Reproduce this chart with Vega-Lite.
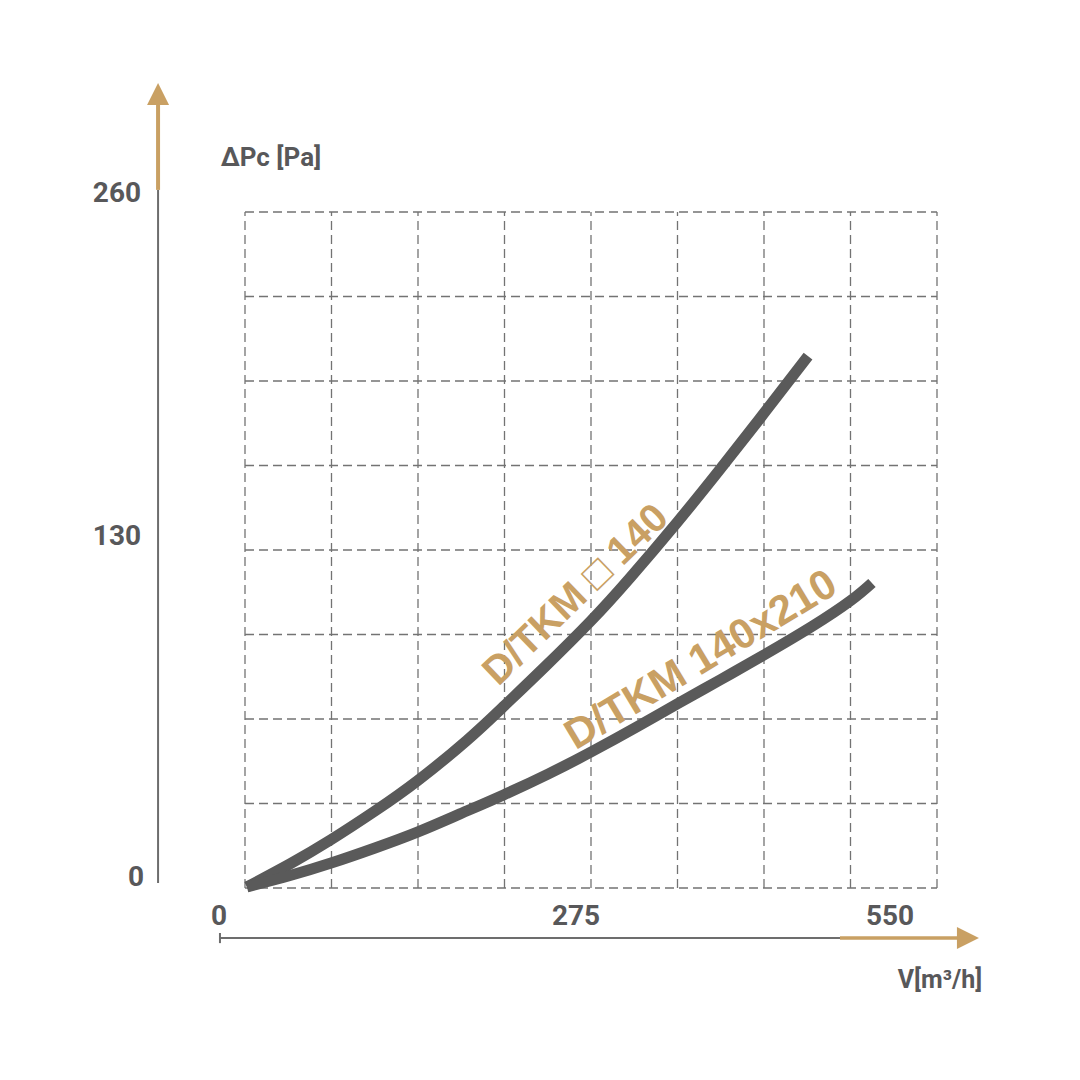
{
  "$schema": "https://vega.github.io/schema/vega-lite/v6.json",
  "width": 692,
  "height": 676,
  "autosize": {"type": "none"},
  "padding": {"left": 245, "top": 212, "right": 143, "bottom": 192},
  "background": "white",
  "config": {"view": {"stroke": null}, "font": "Roboto"},
  "datasets": {
    "curves": [
      {"series": "D/TKM □ 140", "V": 1.5, "P": 0.4},
      {"series": "D/TKM □ 140", "V": 35.8, "P": 9.3},
      {"series": "D/TKM □ 140", "V": 68.4, "P": 18.6},
      {"series": "D/TKM □ 140", "V": 103.3, "P": 29.6},
      {"series": "D/TKM □ 140", "V": 137.5, "P": 41.4},
      {"series": "D/TKM □ 140", "V": 176.4, "P": 56.8},
      {"series": "D/TKM □ 140", "V": 205.9, "P": 70.0},
      {"series": "D/TKM □ 140", "V": 238.4, "P": 85.1},
      {"series": "D/TKM □ 140", "V": 275.0, "P": 102.8},
      {"series": "D/TKM □ 140", "V": 306.0, "P": 119.3},
      {"series": "D/TKM □ 140", "V": 343.4, "P": 140.6},
      {"series": "D/TKM □ 140", "V": 377.5, "P": 161.0},
      {"series": "D/TKM □ 140", "V": 412.5, "P": 182.6},
      {"series": "D/TKM □ 140", "V": 447.5, "P": 204.6},
      {"series": "D/TKM 140x210", "V": 1.5, "P": 0.4},
      {"series": "D/TKM 140x210", "V": 35.8, "P": 4.8},
      {"series": "D/TKM 140x210", "V": 68.4, "P": 9.6},
      {"series": "D/TKM 140x210", "V": 103.3, "P": 15.4},
      {"series": "D/TKM 140x210", "V": 137.5, "P": 21.6},
      {"series": "D/TKM 140x210", "V": 170.9, "P": 28.5},
      {"series": "D/TKM 140x210", "V": 205.9, "P": 35.9},
      {"series": "D/TKM 140x210", "V": 240.8, "P": 43.8},
      {"series": "D/TKM 140x210", "V": 275.0, "P": 52.3},
      {"series": "D/TKM 140x210", "V": 311.6, "P": 62.0},
      {"series": "D/TKM 140x210", "V": 343.4, "P": 70.8},
      {"series": "D/TKM 140x210", "V": 377.5, "P": 80.0},
      {"series": "D/TKM 140x210", "V": 411.7, "P": 89.4},
      {"series": "D/TKM 140x210", "V": 450.7, "P": 100.6},
      {"series": "D/TKM 140x210", "V": 481.6, "P": 110.6},
      {"series": "D/TKM 140x210", "V": 498.3, "P": 117.3}
    ],
    "gridV": [{"v": 0}, {"v": 68.75}, {"v": 137.5}, {"v": 206.25}, {"v": 275}, {"v": 343.75}, {"v": 412.5}, {"v": 481.25}, {"v": 550}],
    "gridH": [{"p": 0}, {"p": 32.5}, {"p": 65}, {"p": 97.5}, {"p": 130}, {"p": 162.5}, {"p": 195}, {"p": 227.5}, {"p": 260}],
    "one": [{"n": 1}]
  },
  "layer": [
    {
      "data": {"name": "gridV"},
      "mark": {"type": "rule", "color": "#737373", "strokeWidth": 1.3, "strokeDash": [9, 5]},
      "encoding": {
        "x": {"field": "v", "type": "quantitative", "scale": {"domain": [0, 550], "nice": false, "zero": false}, "axis": null},
        "y": {"datum": 0, "type": "quantitative", "scale": {"domain": [0, 260], "nice": false, "zero": false}, "axis": null},
        "y2": {"datum": 260}
      }
    },
    {
      "data": {"name": "gridH"},
      "mark": {"type": "rule", "color": "#737373", "strokeWidth": 1.3, "strokeDash": [9, 5]},
      "encoding": {
        "y": {"field": "p", "type": "quantitative", "axis": null},
        "x": {"datum": 0, "type": "quantitative", "axis": null},
        "x2": {"datum": 550}
      }
    },
    {
      "data": {"name": "one"},
      "mark": {"type": "rule", "color": "#6d6d6d", "strokeWidth": 2},
      "encoding": {
        "x": {"datum": -69.1, "type": "quantitative", "axis": null},
        "y": {"datum": 1.9, "type": "quantitative", "axis": null},
        "y2": {"datum": 268.5}
      }
    },
    {
      "data": {"name": "one"},
      "mark": {"type": "rule", "color": "#C9A063", "strokeWidth": 4},
      "encoding": {
        "x": {"datum": -69.1, "type": "quantitative", "axis": null},
        "y": {"datum": 268.5, "type": "quantitative", "axis": null},
        "y2": {"datum": 302}
      }
    },
    {
      "data": {"name": "one"},
      "mark": {"type": "point", "shape": "M0,-1L1,1L-1,1Z", "filled": true, "color": "#C9A063", "opacity": 1, "size": 484, "strokeWidth": 0},
      "encoding": {
        "x": {"datum": -69.1, "type": "quantitative", "axis": null},
        "y": {"datum": 305.4, "type": "quantitative", "axis": null}
      }
    },
    {
      "data": {"name": "one"},
      "mark": {"type": "rule", "color": "#6d6d6d", "strokeWidth": 2},
      "encoding": {
        "x": {"datum": -19.9, "type": "quantitative", "axis": null},
        "x2": {"datum": 472.9},
        "y": {"datum": -19.2, "type": "quantitative", "axis": null}
      }
    },
    {
      "data": {"name": "one"},
      "mark": {"type": "rule", "color": "#6d6d6d", "strokeWidth": 2},
      "encoding": {
        "x": {"datum": -19.9, "type": "quantitative", "axis": null},
        "y": {"datum": -17.3, "type": "quantitative", "axis": null},
        "y2": {"datum": -21.2}
      }
    },
    {
      "data": {"name": "one"},
      "mark": {"type": "rule", "color": "#C9A063", "strokeWidth": 3.5},
      "encoding": {
        "x": {"datum": 472.9, "type": "quantitative", "axis": null},
        "x2": {"datum": 566},
        "y": {"datum": -19.2, "type": "quantitative", "axis": null}
      }
    },
    {
      "data": {"name": "one"},
      "mark": {"type": "point", "shape": "M1,0L-1,-1L-1,1Z", "filled": true, "color": "#C9A063", "opacity": 1, "size": 484, "strokeWidth": 0},
      "encoding": {
        "x": {"datum": 574.6, "type": "quantitative", "axis": null},
        "y": {"datum": -19.2, "type": "quantitative", "axis": null}
      }
    },
    {
      "data": {"name": "curves"},
      "mark": {"type": "line", "color": "#5a5a5a", "strokeWidth": 11, "strokeCap": "butt", "interpolate": "natural"},
      "encoding": {
        "x": {"field": "V", "type": "quantitative", "axis": null},
        "y": {"field": "P", "type": "quantitative", "axis": null},
        "detail": {"field": "series"}
      }
    },
    {
      "data": {"name": "one"},
      "mark": {"type": "text", "fontWeight": "bold", "fontSize": 28, "color": "#58585a", "align": "right", "baseline": "middle", "dx": -17, "dy": -18},
      "encoding": {
        "x": {"datum": -69.1, "type": "quantitative", "axis": null},
        "y": {"datum": 260, "type": "quantitative", "axis": null},
        "text": {"value": "260"}
      }
    },
    {
      "data": {"name": "one"},
      "mark": {"type": "text", "fontWeight": "bold", "fontSize": 28, "color": "#58585a", "align": "right", "baseline": "middle", "dx": -17, "dy": -13.5},
      "encoding": {
        "x": {"datum": -69.1, "type": "quantitative", "axis": null},
        "y": {"datum": 130, "type": "quantitative", "axis": null},
        "text": {"value": "130"}
      }
    },
    {
      "data": {"name": "one"},
      "mark": {"type": "text", "fontWeight": "bold", "fontSize": 28, "color": "#58585a", "align": "right", "baseline": "middle", "dx": -14, "dy": -10},
      "encoding": {
        "x": {"datum": -69.1, "type": "quantitative", "axis": null},
        "y": {"datum": 0, "type": "quantitative", "axis": null},
        "text": {"value": "0"}
      }
    },
    {
      "data": {"name": "one"},
      "mark": {"type": "text", "fontWeight": "bold", "fontSize": 28, "color": "#58585a", "align": "center", "baseline": "middle", "dx": -26, "dy": -21},
      "encoding": {
        "x": {"datum": 0, "type": "quantitative", "axis": null},
        "y": {"datum": -19.2, "type": "quantitative", "axis": null},
        "text": {"value": "0"}
      }
    },
    {
      "data": {"name": "one"},
      "mark": {"type": "text", "fontWeight": "bold", "fontSize": 28, "color": "#58585a", "align": "center", "baseline": "middle", "dx": -15, "dy": -21},
      "encoding": {
        "x": {"datum": 275, "type": "quantitative", "axis": null},
        "y": {"datum": -19.2, "type": "quantitative", "axis": null},
        "text": {"value": "275"}
      }
    },
    {
      "data": {"name": "one"},
      "mark": {"type": "text", "fontWeight": "bold", "fontSize": 28, "color": "#58585a", "align": "center", "baseline": "middle", "dx": -47, "dy": -21},
      "encoding": {
        "x": {"datum": 550, "type": "quantitative", "axis": null},
        "y": {"datum": -19.2, "type": "quantitative", "axis": null},
        "text": {"value": "550"}
      }
    },
    {
      "data": {"name": "one"},
      "mark": {"type": "text", "fontWeight": "bold", "fontSize": 26, "color": "#58585a", "align": "center", "baseline": "middle", "dx": 26, "dy": -54},
      "encoding": {
        "x": {"datum": 0, "type": "quantitative", "axis": null},
        "y": {"datum": 260, "type": "quantitative", "axis": null},
        "text": {"value": "ΔPc [Pa]"}
      }
    },
    {
      "data": {"name": "one"},
      "mark": {"type": "text", "fontWeight": "bold", "fontSize": 25, "color": "#58585a", "align": "center", "baseline": "middle", "dx": 3, "dy": 92},
      "encoding": {
        "x": {"datum": 550, "type": "quantitative", "axis": null},
        "y": {"datum": 0, "type": "quantitative", "axis": null},
        "text": {"value": "V[m³/h]"}
      }
    },
    {
      "data": {"name": "one"},
      "mark": {"type": "text", "font": "Liberation Sans", "fontWeight": "bold", "fontSize": 40, "color": "#C9A063", "angle": -44, "align": "center", "baseline": "middle"},
      "encoding": {
        "x": {"datum": 263.1, "type": "quantitative", "axis": null},
        "y": {"datum": 112.7, "type": "quantitative", "axis": null},
        "text": {"value": "D/TKM □ 140"}
      }
    },
    {
      "data": {"name": "one"},
      "mark": {"type": "text", "font": "Liberation Sans", "fontWeight": "bold", "fontSize": 42, "color": "#C9A063", "angle": -31, "align": "center", "baseline": "middle"},
      "encoding": {
        "x": {"datum": 362.4, "type": "quantitative", "axis": null},
        "y": {"datum": 87.7, "type": "quantitative", "axis": null},
        "text": {"value": "D/TKM 140x210"}
      }
    }
  ]
}
